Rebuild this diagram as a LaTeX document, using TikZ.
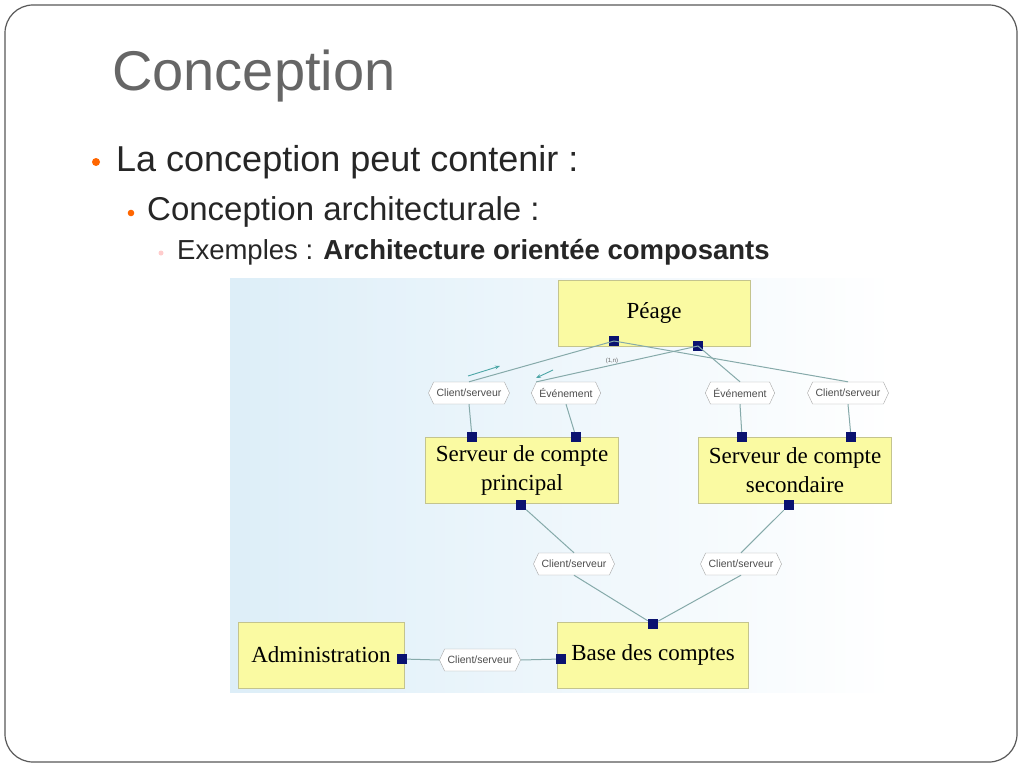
\documentclass[tikz,border=0pt]{standalone}
\usepackage{fontspec}
\setmainfont{Liberation Sans}
\newfontfamily\serif{Liberation Serif}
\usetikzlibrary{shapes.symbols,arrows.meta}
\definecolor{boxfill}{HTML}{FAFAA2}
\definecolor{boxline}{HTML}{C4C48E}
\definecolor{link}{HTML}{86AAAA}
\definecolor{port}{HTML}{0A1270}
\definecolor{bgblue}{HTML}{DDEEF8}
\tikzset{
  comp/.style={draw=boxline,fill=boxfill,line width=1pt,font=\serif\fontsize{23}{29}\selectfont,align=center,inner sep=0pt},
  hex/.style={draw=gray!70,fill=white,signal,signal to=east and west,signal pointer angle=130,font=\fontsize{10.5}{12}\selectfont,minimum height=22pt,inner xsep=3pt,text=black!70},
  sq/.style={fill=port,minimum size=10pt,inner sep=0pt},
  ln/.style={draw=link,line width=1pt}
}
\begin{document}
\begin{tikzpicture}[x=1pt,y=-1pt]
\useasboundingbox (0,0) rectangle (1024,768);
\fill[white] (0,0) rectangle (1024,768);
\draw[gray!70!black,line width=1.2pt,rounded corners=28pt] (5,5) rectangle (1017,762);
\node[anchor=base west,text=black!60,font=\fontsize{56}{60}\selectfont,inner sep=0] (title) at (112,90) {Conception};
\fill[orange!80!red] (96,162) circle (4);
\node[anchor=west,font=\fontsize{36}{40}\selectfont,text=black!85,inner sep=0] (l1) at (116,162) {La conception peut contenir :};
\fill[orange!80!red] (131,213) circle (3.3);
\node[anchor=west,font=\fontsize{33}{36}\selectfont,text=black!85,inner sep=0] (l2) at (147,212) {Conception architecturale :};
\fill[red!20] (161,253) circle (2.5);
\node[anchor=west,font=\fontsize{27.5}{30}\selectfont,text=black!85,inner sep=0] (l3) at (177,252) {Exemples : \textbf{Architecture orientée composants}};
\shade[left color=bgblue,right color=white] (230,278) rectangle (893,692);
% components
\node[comp,minimum width=192pt,minimum height=66pt] (peage) at (654,313) {Péage};
\node[comp,minimum width=193pt,minimum height=66pt] (sp) at (522,470) {Serveur de compte\\principal};
\node[comp,minimum width=193pt,minimum height=66pt] (ss) at (795,470) {Serveur de compte\\secondaire};
\node[comp,minimum width=191pt,minimum height=66pt] (base) at (653,655) {Base des comptes};
\node[comp,minimum width=166pt,minimum height=66pt] (admin) at (321,655) {Administration};
% hexes
\node[hex] (h1) at (469,393) {Client/serveur};
\node[hex] (h2) at (566,393) {Événement};
\node[hex] (h3) at (740,393) {Événement};
\node[hex] (h4) at (848,393) {Client/serveur};
\node[hex] (h5) at (574,564) {Client/serveur};
\node[hex] (h6) at (741,564) {Client/serveur};
\node[hex] (h7) at (480,660) {Client/serveur};
% ports
\node[sq] (p1) at (614,341) {};
\node[sq] (p2) at (698,346) {};
\node[sq] (s1) at (472,437) {};
\node[sq] (s2) at (576,437) {};
\node[sq] (s3) at (521,505) {};
\node[sq] (t1) at (742,437) {};
\node[sq] (t2) at (851,437) {};
\node[sq] (t3) at (789,505) {};
\node[sq] (b1) at (653,624) {};
\node[sq] (b2) at (561,659) {};
\node[sq] (a1) at (402,659) {};
% links
\draw[ln] (p1.center) -- (h1.north);
\draw[ln] (p1.center) -- (h4.north);
\draw[ln] (p2.center) -- (h2.north west);
\draw[ln] (p2.center) -- (h3.north);
\draw[ln] (h1.south) -- (s1);
\draw[ln] (h2.south) -- (s2);
\draw[ln] (h3.south) -- (t1);
\draw[ln] (h4.south) -- (t2);
\draw[ln] (s3) -- (h5.north);
\draw[ln] (t3) -- (h6.north);
\draw[ln] (h5.south) -- (b1);
\draw[ln] (h6.south) -- (b1);
\draw[ln] (a1) -- (h7.west);
\draw[ln] (h7.east) -- (b2);
\coordinate (ar1a) at (468,376); \coordinate (ar1b) at (500,366);
\draw[draw=teal!70,line width=0.9pt,-{Stealth[length=5pt]}] (ar1a) -- (ar1b);
\coordinate (ar2a) at (553,370); \coordinate (ar2b) at (536,378);
\draw[draw=teal!70,line width=0.9pt,-{Stealth[length=5pt]}] (ar2a) -- (ar2b);
\node[font=\fontsize{6}{7}\selectfont,text=black!60] (card) at (612,361) {(1,n)};
\end{tikzpicture}
\end{document}
